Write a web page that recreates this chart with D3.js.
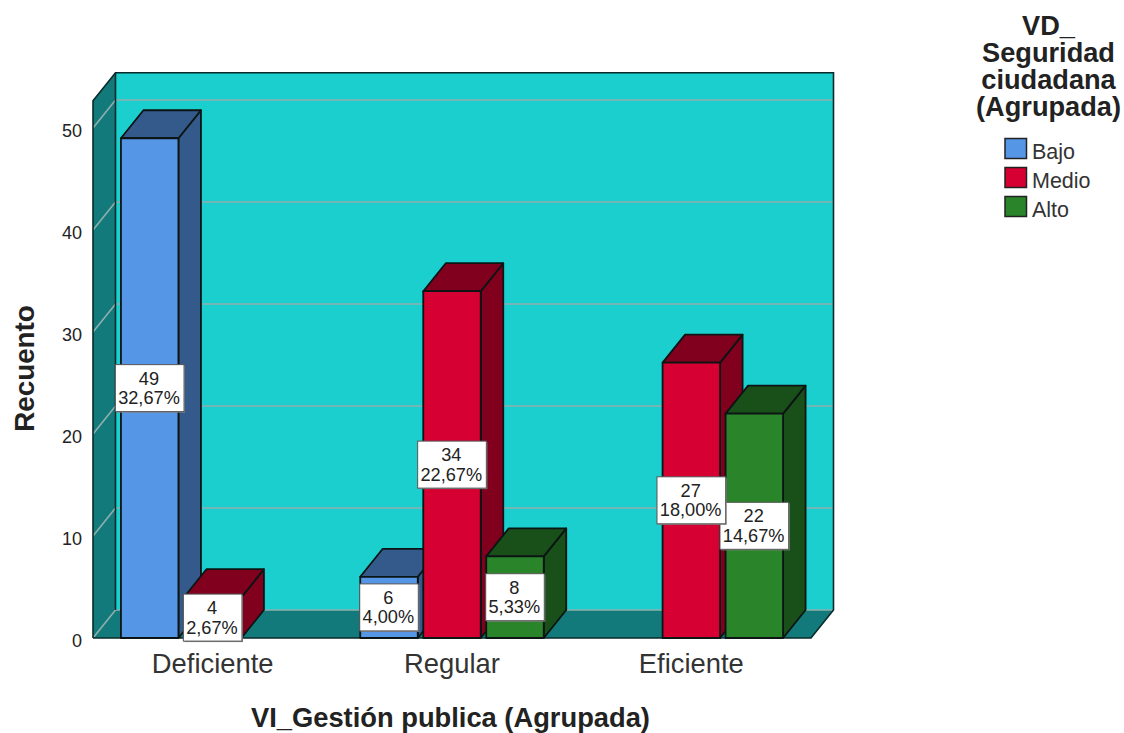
<!DOCTYPE html>
<html><head><meta charset="utf-8">
<script src="https://cdn.jsdelivr.net/npm/d3@7/dist/d3.min.js"></script>
<style>html,body{margin:0;padding:0;background:#fff}svg{display:block;font-family:"Liberation Sans",Arial,sans-serif}</style>
</head><body><svg id="c" width="1124" height="733"></svg>
<script>
const categories = ["Deficiente","Regular","Eficiente"];
const seriesNames = ["Bajo","Medio","Alto"];
const bajoValues  = [49,6,null];
const medioValues = [4,34,27];
const altoValues  = [null,8,22];
const bajoPct  = ["32,67%","4,00%",null];
const medioPct = ["2,67%","22,67%","18,00%"];
const altoPct  = [null,"5,33%","14,67%"];
const yTicks = [0,10,20,30,40,50];
const frontColors = ["#5596e6","#d60032","#2a842a"];
const sideColors  = ["#335a8a","#80001e","#194f19"];
const legendTitle = ["VD_","Seguridad","ciudadana","(Agrupada)"];

const svg = d3.select("#c");
const DX = 22.5, DY = 28;
const x0 = d3.scaleBand().domain(categories).range([93,811]);
const x1 = d3.scaleBand().domain(seriesNames).range([-91.75,91.75]).paddingInner(0.087);
const y = d3.scaleLinear().domain([0,52.67]).range([638,100.8]);
const yTop = y.domain()[1];
const L = 93, R = 811, B = y(0), T = y(yTop);
const poly = pts => pts.map(p=>p.join(",")).join(" ");

// walls
svg.append("polygon").attr("points",poly([[L+DX,T-DY],[R+DX,T-DY],[R+DX,B-DY],[L+DX,B-DY]])).attr("fill","#1ccfcf");
svg.append("polygon").attr("points",poly([[L,T],[L+DX,T-DY],[L+DX,B-DY],[L,B]])).attr("fill","#127a7a");
svg.append("polygon").attr("points",poly([[L,B],[L+DX,B-DY],[R+DX,B-DY],[R,B]])).attr("fill","#127a7a");
// gridlines
const gridCol = "#8fb0ae";
yTicks.forEach(t=>{
  svg.append("polyline").attr("fill","none").attr("stroke",gridCol).attr("stroke-width",1.6)
    .attr("points",poly([[L,y(t)],[L+DX,y(t)-DY],[R+DX,y(t)-DY]]));
});
// wall outlines
svg.append("polyline").attr("fill","none").attr("stroke","#0a2a2a").attr("stroke-width",1.6)
  .attr("points",poly([[L,B],[L,T],[L+DX,T-DY],[R+DX,T-DY],[R+DX,B-DY],[R,B],[L,B]]));
svg.append("line").attr("x1",L+DX).attr("x2",L+DX).attr("y1",T-DY).attr("y2",B-DY).attr("stroke","#0a2a2a").attr("stroke-width",1.6);

// bars
const rows = [bajoValues,medioValues,altoValues];
const pcts = [bajoPct,medioPct,altoPct];
const labels = [];
categories.forEach((c,ci)=>{
  seriesNames.forEach((s,si)=>{
    const v = rows[si][ci];
    if(v==null) return;
    const cx = x0(c)+x0.bandwidth()/2;
    const a = cx+x1(s), w = x1.bandwidth(), b = a+w, t = y(v);
    const g = svg.append("g").attr("stroke","#0c1414").attr("stroke-width",1.8).attr("stroke-linejoin","round");
    g.append("polygon").attr("points",poly([[b,t],[b+DX,t-DY],[b+DX,B-DY],[b,B]])).attr("fill",sideColors[si]);
    g.append("polygon").attr("points",poly([[a,t],[a+DX,t-DY],[b+DX,t-DY],[b,t]])).attr("fill",sideColors[si]);
    g.append("rect").attr("x",a).attr("y",t).attr("width",w).attr("height",B-t).attr("fill",frontColors[si]);
    labels.push({x:(a+b)/2,y:(t+B)/2,v,p:pcts[si][ci]});
  });
});
// data labels: later series are drawn first, so the earlier series' box stays on top
const LF = 18.2;
labels.reverse().forEach(d=>{
  const g = svg.append("g").attr("transform",`translate(${d.x},${d.y})`);
  const s = g.append("rect"), r = g.append("rect");
  g.append("text").attr("text-anchor","middle").attr("x",-0.7).attr("y",-3.5).attr("font-size",LF).attr("fill","#222").text(d.v);
  const t2 = g.append("text").attr("text-anchor","middle").attr("x",-0.7).attr("y",16).attr("font-size",LF).attr("fill","#222").text(d.p);
  const w = t2.node().getComputedTextLength()+7;
  s.attr("x",-w/2+1).attr("y",-22.5).attr("width",w).attr("height",47).attr("fill","#8a8a8a");
  r.attr("x",-w/2).attr("y",-23.5).attr("width",w).attr("height",47).attr("fill","#fff").attr("stroke","#555").attr("stroke-width",1);
});
// y axis
const ax = svg.append("g").attr("transform",`translate(${L},3)`)
  .call(d3.axisLeft(y).tickValues(yTicks).tickSize(0).tickPadding(11).tickFormat(d3.format("d")));
ax.select(".domain").remove();
ax.selectAll("text").attr("font-family","Liberation Sans").attr("font-size",18).attr("fill","#222");
// x axis
const xa = svg.append("g").attr("transform",`translate(0,${B})`)
  .call(d3.axisBottom(x0).tickSize(0).tickPadding(16));
xa.select(".domain").remove();
xa.selectAll("text").attr("font-family","Liberation Sans").attr("font-size",27.4).attr("fill","#333");
// axis titles
svg.append("text").attr("x",450.5).attr("y",727).attr("text-anchor","middle").attr("font-weight","bold").attr("font-size",27.3).attr("fill","#222").text("VI_Gestión publica (Agrupada)");
svg.append("text").attr("transform","translate(34,368.5) rotate(-90)").attr("text-anchor","middle").attr("font-weight","bold").attr("font-size",27.8).attr("fill","#222").text("Recuento");
// legend
const lt = svg.append("text").attr("text-anchor","middle").attr("font-weight","bold").attr("font-size",27.2).attr("fill","#222");
legendTitle.forEach((t,i)=>{
  lt.append("tspan").attr("x",1048.5).attr("y",[35,62,89,116][i]).text(t);
});
seriesNames.forEach((s,i)=>{
  const yy = [138.5,167.5,196.5][i];
  svg.append("rect").attr("x",1005).attr("y",yy).attr("width",21.5).attr("height",20).attr("fill",frontColors[i]).attr("stroke","#222").attr("stroke-width",1.5);
  svg.append("text").attr("x",1032).attr("y",yy+20).attr("font-size",21.5).attr("fill","#333").text(s);
});
</script></body></html>
